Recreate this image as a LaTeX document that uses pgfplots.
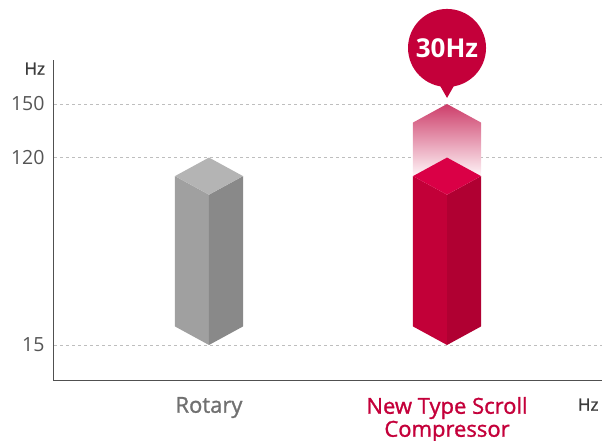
\documentclass[border=0pt]{standalone}
\usepackage{fontspec}
\setmainfont{Open Sans}
\newfontfamily\semib[FakeBold=1.2]{Open Sans}
\usepackage{pgfplots}
\pgfplotsset{compat=1.18}
\definecolor{lgred}{RGB}{196,0,58}
\definecolor{redleft}{RGB}{194,0,56}
\definecolor{redright}{RGB}{176,0,50}
\definecolor{redtop}{RGB}{218,0,70}
\definecolor{grayleft}{RGB}{160,160,160}
\definecolor{grayright}{RGB}{137,137,137}
\definecolor{graytop}{RGB}{180,180,180}
\definecolor{pinktop}{RGB}{205,62,106}
\definecolor{pinkbot}{RGB}{255,245,248}
\definecolor{axisgray}{RGB}{80,80,80}
\definecolor{labgray}{RGB}{112,112,112}
\definecolor{unitgray}{RGB}{60,60,60}
\definecolor{tickgray}{RGB}{85,85,85}
\definecolor{gridgray}{RGB}{190,190,190}
\begin{document}
\begin{tikzpicture}
\useasboundingbox (-54pt,-60pt) rectangle (548pt,381pt);
\begin{axis}[
  at={(0,0)}, anchor=south west,
  scale only axis, width=548pt, height=321pt,
  xmin=0.349, xmax=2.651, ymin=-5.17, ymax=174.65,
  axis x line=bottom, axis y line=left,
  axis line style={axisgray, line width=1pt, -},
  clip=false,
  xtick={1,2},
  xticklabels={\textcolor{labgray}{Rotary}, {\textcolor{lgred}{New Type Scroll}\\\textcolor{lgred}{Compressor}}},
  ytick={15,120,150},
  major tick length=0pt,
  ymajorgrids,
  major grid style={gridgray, dash pattern=on 3pt off 3pt, line width=0.8pt},
  /pgf/number format/assume math mode=true,
  xticklabel style={font=\semib\fontsize{22}{23}\selectfont, align=center, yshift=-12.5pt},
  yticklabel style={font=\fontsize{19.5}{22}\selectfont, text=tickgray, xshift=-6pt},
]
% Rotary prism
\addplot[fill=grayleft, draw=none] coordinates {(0.857,109.6) (1,99.2) (1,15) (0.857,25.4)};
\addplot[fill=grayright, draw=none] coordinates {(1,99.2) (1.143,109.6) (1.143,25.4) (1,15)};
\addplot[fill=graytop, draw=none] coordinates {(0.857,109.6) (1,120) (1.143,109.6) (1,99.2)};
% Scroll: range extension 120 -> 150
\addplot[draw=none, top color=pinktop, bottom color=pinkbot] coordinates {(1.857,109.6) (1.857,139.6) (2,150) (2.143,139.6) (2.143,109.6)};
% Scroll prism
\addplot[fill=redleft, draw=none] coordinates {(1.857,109.6) (2,99.2) (2,15) (1.857,25.4)};
\addplot[fill=redright, draw=none] coordinates {(2,99.2) (2.143,109.6) (2.143,25.4) (2,15)};
\addplot[fill=redtop, draw=none] coordinates {(1.857,109.6) (2,120) (2.143,109.6) (2,99.2)};
% bubble
\fill[lgred] (axis cs:2,181.4) circle[radius=39pt];
\fill[lgred] (axis cs:2,153.4) -- +(-8pt,14pt) -- +(8pt,14pt) -- cycle;
\node[text=white, font=\fontsize{26}{30}\selectfont\bfseries] at (axis cs:2,181.4) {30Hz};
% unit labels
\node[anchor=north east, text=unitgray, font=\semib\fontsize{17}{20}\selectfont, xshift=-5.5pt, yshift=1pt] at (rel axis cs:0,1) {Hz};
\node[anchor=north east, text=unitgray, font=\semib\fontsize{17}{20}\selectfont, yshift=-14pt] at (rel axis cs:1,0) {Hz};
\end{axis}
\end{tikzpicture}
\end{document}
